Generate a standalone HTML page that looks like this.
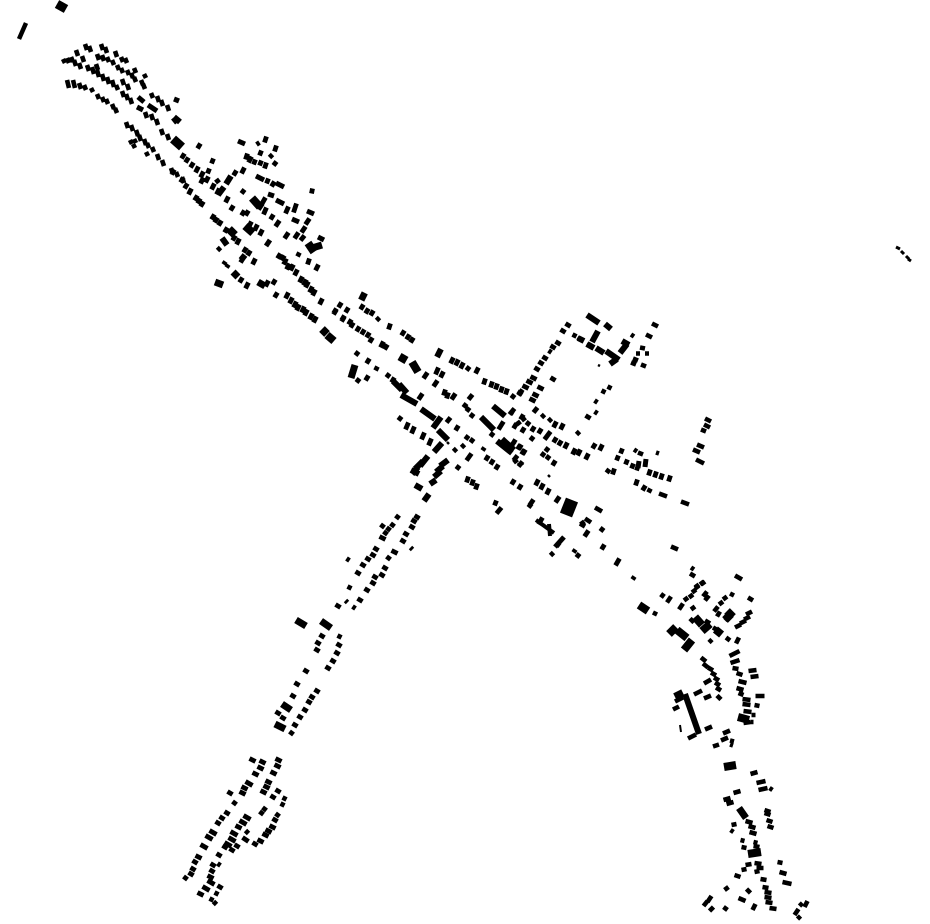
<!DOCTYPE html>
<html><head><meta charset="utf-8"><style>html,body{margin:0;padding:0;background:#fff}svg{display:block}path{fill:none;stroke:#000;stroke-linecap:butt}</style></head><body>
<svg width="930" height="924" viewBox="0 0 930 924" xmlns="http://www.w3.org/2000/svg">
<path stroke-width="4.6" transform="translate(-1,-3)" d="M86 47l2 6M90 49l2 6M102 47l2 6M106 50l2 6M116 54l2 6M122 60l2 5M126 61l2 5M77 53l2 6M83 59l2 6M72 60l2 5M64 62l2 4M68 61l2 5M75 63l2 6M80 66l2 6M88 68l2 6M97 67l2 6M98 57l2 6M103 58l2 6M108 60l2 5M113 63l2 5M118 68l2 5M122 71l2 5M128 73l2 5M135 71l2 5M132 76l2 5M135 80l2 5M145 77l2 4M142 83l2 5M144 87l2 5M93 70l2 7M98 73l2 7M103 77l2 7M108 80l2 7M113 83l2 7M117 88l2 5M123 82l2 6M128 87l2 6M123 94l2 6M127 97l2 6M131 101l2 6M146 115l2 6M152 117l2 6M157 122l2 6M162 132l2 6M168 137l2 6M152 96l2 5M158 99l2 6M162 103l2 6M168 108l2 6M68 83l2 8M74 83l2 8M80 86l2 6M85 88l2 5M92 91l2 4M98 97l2 5M103 100l2 5M107 102l2 5M113 107l2 5M116 111l2 5M127 125l2 6M132 128l2 6M137 133l2 6M140 138l2 6M145 142l2 6M148 146l2 5M153 150l2 5M158 157l2 6M163 163l2 6M172 171l2 6M177 175l2 5M183 180l2 6M131 143l2 4M135 142l2 4M134 147l2 4M147 155l2 4"/>
<path stroke-width="4.8" transform="translate(-1.5,2.5)" d="M183 156l3-5M192 165l3-5M197 170l3-6M202 175l3-6M207 180l3-6M213 187l3-6M227 200l3-6M232 208l3-5M243 213l3-5M247 213l3-5M250 225l3-6M256 228l3-6M261 233l3-6M173 172l3-5M182 180l3-5M190 192l3-6M196 198l3-5M202 204l3-5M213 217l3-5M220 223l3-5M238 242l3-6M245 250l3-5M249 253l3-5M254 262l3-6M219 248l3-3M242 260l3-5M225 262l2-3M228 265l2-3M241 280l3-5M247 286l3-6M267 284l3-6M274 282l3-5M276 295l3-5M287 296l3-6M295 305l3-6M306 313l3-6M315 320l3-6M298 308l3-6M199 146l3-5M213 161l2-5M209 171l2-5M217 180l4-3M235 173l3-5M243 171l3-6M243 191l3-4M258 142l3-2M266 140l2-6M261 153l2-5M271 155l3-3M276 149l2-6M247 157l2-6M250 160l3-6M255 162l2-5M261 163l2-5M266 166l2-6M275 163l3-4M268 181l2-5M273 184l3-5M263 202l4-7M260 207l4-6M265 212l3-7M272 217l3-5M277 224l4-6M287 211l3-7M295 210l3-9M307 222l4-6M303 230l4-6M296 236l4-6M302 238l4-5M286 236l4-6M299 254l2-4M309 262l2-6M317 268l3-6M313 191l1-5M279 256l3-5M285 262l3-6M288 267l3-6M296 273l3-6M301 280l3-6M307 285l3-6M314 293l3-6M321 302l3-6M340 305l3-5M335 311l3-5M347 310l3-5M343 318l3-5M350 322l3-5M335 312l3-5M362 307l3-5M367 311l3-5M372 313l3-5M378 318l3-3M343 319l3-5M352 325l3-5M358 329l3-5M363 332l3-5M368 335l3-5M371 340l3-5M390 327l2-6M403 333l3-5M408 337l3-5M412 340l3-5M382 345l3-6M386 347l3-5M357 353l3-4M368 361l3-5M358 380l3-4M367 378l3-5M377 368l2-4M388 375l3-4M393 380l3-5M420 397l4-6M425 376l4-6M437 372l3-7M442 375l3-6M435 384l4-6M452 361l3-6M457 363l3-6M462 366l3-6M468 368l3-4M477 371l3-6M445 393l2-6M448 396l2-6M453 397l4-6M470 397l4-5M465 405l3-4M468 409l3-4M472 415l3-4M485 382l2-6M492 385l2-6M497 387l2-6M502 390l2-6M507 392l2-6M513 396l3-4M520 393l4-6M511 412l5-6M500 427l5-8M492 434l3-4M523 418l4-3M518 422l4-3M514 442l3-5M520 447l3-5M524 452l3-5M515 458l4-5M520 464l4-5M467 437l3-4M472 440l3-4M463 445l3-3M455 449l3-3M468 458l5-7M484 448l2-3M487 458l3-5M492 462l3-5M497 467l3-5M458 467l3-4M468 480l2-6M473 483l2-6M477 487l2-6M513 482l3-5M520 487l3-5M496 503l2-5M498 511l5-6M530 505l3-4M400 418l3-4M407 427l3-7M413 431l3-7M423 437l3-7M430 443l3-7M448 420l4-5M457 428l3-5M535 410l4-5M543 415l3-3M550 419l3-3M555 425l3-6M562 427l3-6M512 412l3-5M522 417l3-5M515 426l3-5M523 430l3-5M528 423l3-4M533 429l3-5M540 431l3-5M546 437l3-4M549 433l3-4M555 440l3-5M560 443l3-5M566 446l3-6M574 452l3-6M579 453l3-6M587 457l3-6M578 432l3-3M594 446l3-5M601 448l3-6M532 438l3-4M513 443l3-4M519 447l3-5M523 452l3-5M515 460l4-3M520 463l4-3M547 449l3-4M543 454l3-4M548 457l3-4M554 463l3-5M537 483l3-6M542 487l3-6M548 492l3-6M557 500l4-6M531 503l4-6M540 522l4-7M558 544l3-4M552 553l3-3M575 550l2-3M578 555l3-4M617 563l4-7M634 577l2-3M586 534l4-6M582 522l4-3M603 547l3-5M602 529l3-4M622 451l2-5M618 458l2-5M633 466l2-5M638 468l2-6M650 473l2-6M656 475l2-6M662 477l2-6M670 479l2-6M614 472l2-6M627 462l2-5M637 483l2-6M650 490l2-4M644 488l3-5M187 160l3-5M202 181l3-6M218 192l3-6M186 186l3-5M199 201l3-5M216 220l3-5M226 230l3-5M234 238l3-5M291 301l3-6M303 310l3-6M311 317l3-6M283 258l3-5M292 268l3-6M305 283l3-6M311 290l3-6"/>
<path stroke-width="4.8" transform="translate(-2.5,-1.5)" d="M398 517l4 3M417 517l5 3M414 521l5 3M412 527l5 3M406 534l5 3M403 541l5 3M393 525l4 3M383 526l4 3M389 529l4 3M382 538l6 3M386 533l4 3M413 549l2 2M394 552l6 3M389 558l4 3M376 549l5 3M373 555l5 3M368 559l5 3M363 565l5 3M358 573l5 3M385 568l5 3M382 575l5 3M375 577l5 3M373 583l5 3M367 590l5 3M360 600l5 3M355 608l3 2M349 560l3 2M350 588l4 2M348 602l2 2M338 606l5 3M322 636l5 3M318 643l5 3M317 650l5 3M340 637l4 2M339 645l5 3M337 653l5 3M333 661l5 3M328 668l5 3M306 671l5 3M297 684l5 3M293 696l5 3M317 691l5 3M312 697l5 3M309 702l5 3M305 710l5 3M300 717l5 3M295 725l5 3M292 733l4 3M278 713l5 3M283 718l5 3M558 343l5 3M553 347l5 3M551 352l3 2M545 358l5 3M541 363l5 3M537 369l5 3M533 378l6 3M529 382l6 3M525 387l6 3M520 393l5 3M553 379l5 3M540 388l6 3M535 395l6 3M532 400l6 3M610 388l4 2M604 392l4 2M597 402l3 2M597 413l3 2M588 417l5 3M563 331l5 3M568 325l5 3M575 336l4 2M580 339l5 3M589 346l6 3M252 760l6 3M262 762l6 3M260 768l6 3M278 760l6 3M277 766l6 3M273 773l6 3M255 774l6 3M248 783l7 4M244 788l6 3M242 793l6 3M230 793l5 3M268 782l6 3M266 787l6 3M263 792l6 3M278 791l5 3M273 797l5 3M285 799l4 2M283 805l4 2M235 803l4 3M246 817l7 4M242 822l7 4M238 827l6 3M265 809l4 3M262 813l4 3M278 815l4 3M275 820l5 3M272 827l6 3M268 831l6 3M265 835l6 3M260 841l6 3M255 844l5 3M248 832l3 3M245 839l6 4M233 833l7 4M231 839l7 4M227 844l7 4M225 847l5 3M237 846l5 3M232 850l5 3M219 855l5 3M227 813l5 3M222 818l5 3M218 823l5 3M212 832l7 4M208 837l7 4M203 846l7 4M198 857l6 3M195 862l5 3M193 869l5 3M191 874l5 3M186 878l4 3M213 865l5 3M212 871l5 3M210 877l6 3M210 882l7 4M205 888l7 4M200 894l6 3M220 887l5 3M217 894l4 2M212 900l4 2M216 903l3 3M220 865l3 2"/>
<path stroke-width="4.6" transform="translate(-2.5,-1)" d="M753 775l7-2M759 784l9-2M761 791l9-2M772 789l3 2M736 794l7-2M726 801l7-2M729 805l7-2M767 811l6 2M767 814l6 2M769 821l6 2M770 827l6 2M748 822l7 2M751 827l7 2M752 833l7 2M734 826l5-1M733 831l3 2M743 841l4 1M744 848l5 1M756 843l4 1M756 847l6 1M757 864l7 1M748 866l6-1M744 871l5-1M759 869l7 0M757 873l5-1M737 876l6 2M780 863l5 1M782 873l7 2M785 883l9 2M763 880l6 1M765 888l6 1M767 893l7 1M767 898l7 1M768 903l7 1M772 909l7 1M749 890l4 4M727 891l4-3M741 899l7 3M726 908l4 3M755 911l3-6M710 903l4-6M712 912l4-4M706 907l4-5M807 908l3-6M802 907l3-3M797 916l4-6M800 920l3-3M745 700l8 1M745 705l8 1M757 706l5 1M746 712l8 1M754 716l4 0M753 723l3 0M746 724l7-1M751 672l8-1M753 678l8-1M758 697l9 0M741 682l8 2M739 689l7 2M741 694l5 2M739 674l6 2M735 669l6 1M733 664l9-3M732 657l10-5"/>
<path stroke-width="4.6" transform="translate(-2,1.5)" d="M703 583l4-3M697 586l4-3M694 591l4-3M691 596l4-3M686 599l4-3M663 596l3-4M669 601l4-6M705 595l4-5M707 599l4-5M732 592l4 2M725 598l4-3M750 596l5 3M721 603l4-3M656 614l2-4M681 608l4-6M693 608l4-3M716 610l4-5M719 615l3-5M748 613l6-3M746 618l6-3M742 622l6-3M737 626l6-3M727 619l3-3M692 617l4 4M707 619l5 3M715 626l5 3M718 633l5-5M728 636l4 3M711 641l3-3M738 642l3-6M703 656l5 4M705 662l5 4M710 666l5 3M713 671l5 3M716 676l5 3M706 682l7-4M717 681l5 3M718 686l5 3M696 693l8-4M706 697l7-3M719 694l4 4M677 700l8-4M675 708l6-3M707 728l7-3M690 737l8-4M725 732l7-3M723 739l7-3M732 739l4 1M732 743l3 1M715 745l6-2M693 566l3 2M692 572l5 3M737 574l7 4M654 322l6 3M648 333l6 3M642 346l5 1M638 352l4 0M647 352l4 0M635 357l5 2M633 361l5 2M643 363l5 2M633 333l3 2M625 340l6 3M673 545l7 3M683 500l8 3M661 492l8 3M640 451l5 2M636 448l3 2M658 451l3 1M608 468l4 3M707 417l6 3M706 423l6 3M703 428l5 2M699 443l7 3M695 448l7 3M698 458l8 4M597 506l7 4M587 517l6 4M582 522l5 3M702 583l4-3M697 587l4-3"/>
<path d="M57 4l9 5" stroke-width="9"/>
<path d="M26 23l-7 16" stroke-width="4.5"/>
<path d="M138 97l6 5M137 107l6 3M148 105l9 6M174 99l5 2M173 118l4 5M238 141l7 3M256 176l8 4M276 183l8 4M268 194l6 2M276 200l8 4M292 219l7 3M307 211l7 3M318 237l6 3M266 246l4-6" stroke-width="5"/>
<path d="M173 139l9 8" stroke-width="9"/>
<path d="M224 187l-6 8M231 176l-5 8M222 238l5 7M241 260l4-5M174 117l6 5" stroke-width="6"/>
<path d="M252 198l8 9M229 229l6 6M245 226l8 7M322 329l5 5M327 335l7 6M308 243l6 9M405 355l-4 7M412 362l6 10M360 295l6 3" stroke-width="8"/>
<path d="M351 378l4-13" stroke-width="7"/>
<path d="M215 282l8 3M233 277l5-5M258 282l7 4M296 620l10 6M321 621l10 7M275 724l10 5M282 704l9 6M312 248l10-3" stroke-width="7"/>
<path d="M441 349l-4 8M393 381l9 9M399 384l8 9M401 395l16 9M421 409l14 10M433 428l8-11M438 430l10 10M434 452l8-9M493 406l12 10M481 417l13 13M497 441l15 12M502 439l12 11M423 461l-8 8M428 456l-8 10M418 467l-6 7M411 470l8 4M415 485l7 4M429 494l-5 7M448 460l-8 6M443 466l-7 6M441 471l-7 6M436 480l-6 4M587 315l12 8M605 324l6 5M592 342l6-11M578 338l6 3M587 344l7 4M596 348l8 5M606 351l13 9M610 364l7-5M620 353l7-9M622 341l7 4" stroke-width="6"/>
<path d="M572 500l-6 15" stroke-width="13"/>
<path d="M536 520l18 13" stroke-width="4"/><path d="M549 524l1 12" stroke-width="4"/>
<path d="M555 547l9-10" stroke-width="5"/>
<path d="M639 605l9 6M676 627l-7 7M677 630l10 8M692 640l-8 10M695 617l7 8M702 631l8-7M727 611l6 6M725 620l6-6M716 635l5-6M738 717l11 3M675 697l8-4" stroke-width="8"/>
<path d="M685 694l14 40" stroke-width="6"/>
<path d="M680 725l1 7" stroke-width="2"/>
<path d="M724 767l12-2" stroke-width="8"/>
<path d="M739 808l7 10" stroke-width="7"/>
<path d="M748 854l13-2" stroke-width="8"/>
<path d="M896 247l4 2M901 251l3 3M906 256l3 3M908 259l3 2" stroke-width="3"/>
<path d="M645 467l1-8M638 468l1-7" stroke-width="5"/>
<path d="M598 365l2 1M548 475l2 2M367 378l2 1M447 442l2 2" stroke-width="2.5"/>
</svg>
</body></html>
